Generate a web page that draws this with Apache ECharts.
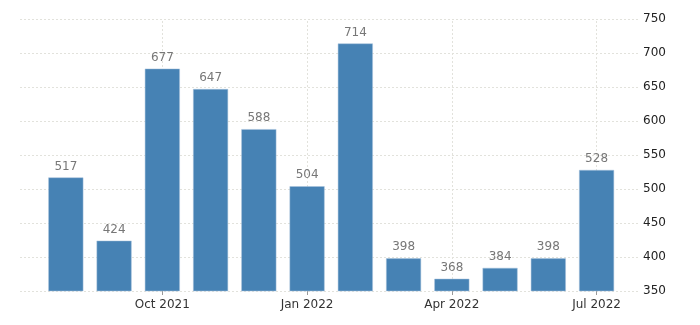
<!DOCTYPE html>
<html><head><meta charset="utf-8">
<script src="https://cdn.jsdelivr.net/npm/echarts@6/dist/echarts.min.js"></script>
<style>html,body{margin:0;padding:0;background:#fff}#c{width:700px;height:325px}</style>
</head><body><div id="c"></div>
<script>
const categories = ['Aug 2021','Sep 2021','Oct 2021','Nov 2021','Dec 2021','Jan 2022','Feb 2022','Mar 2022','Apr 2022','May 2022','Jun 2022','Jul 2022'];
const values = [517, 424, 677, 647, 588, 504, 714, 398, 368, 384, 398, 528];
const tickIndices = [2, 5, 8, 11];
const tickLabels = ['Oct 2021', 'Jan 2022', 'Apr 2022', 'Jul 2022'];

const chart = echarts.init(document.getElementById('c'));
const gridColor = '#e2e2dc';
chart.setOption({
  animation: false,
  grid: { left: 20, right: 60, top: 19, bottom: 34 },
  xAxis: {
    type: 'value', min: -0.95, max: 11.9,
    axisLine: { show: false },
    splitLine: { show: false },
    axisTick: { show: true, customValues: tickIndices, length: 4, lineStyle: { color: '#999' } },
    axisLabel: {
      customValues: tickIndices,
      formatter: v => tickLabels[tickIndices.indexOf(Math.round(v))] || '',
      color: '#333', fontSize: 12, fontFamily: 'DejaVu Sans', margin: 8
    }
  },
  yAxis: {
    type: 'value', position: 'right', min: 350, max: 750, interval: 50,
    axisLine: { show: false }, axisTick: { show: false },
    splitLine: { show: true, lineStyle: { color: gridColor, type: [2, 2], width: 1 } },
    axisLabel: { color: '#222', fontSize: 12, fontFamily: 'DejaVu Sans', margin: 3 }
  },
  series: [{
    type: 'scatter',
    data: [],
    z: 1,
    markLine: {
      silent: true, symbol: 'none', label: { show: false }, z: 1,
      lineStyle: { color: gridColor, type: [2, 2], width: 1 },
      data: tickIndices.map(i => ({ xAxis: i }))
    }
  }, {
    type: 'bar',
    data: values.map((v, i) => [i, v]),
    barWidth: 35,
    itemStyle: { color: '#4682b4', borderColor: '#a9c3dc', borderWidth: 0.5 },
    label: { show: true, position: 'top', distance: 5, color: '#777', fontSize: 12, fontFamily: 'DejaVu Sans' },
    z: 3
  }]
});
</script></body></html>
